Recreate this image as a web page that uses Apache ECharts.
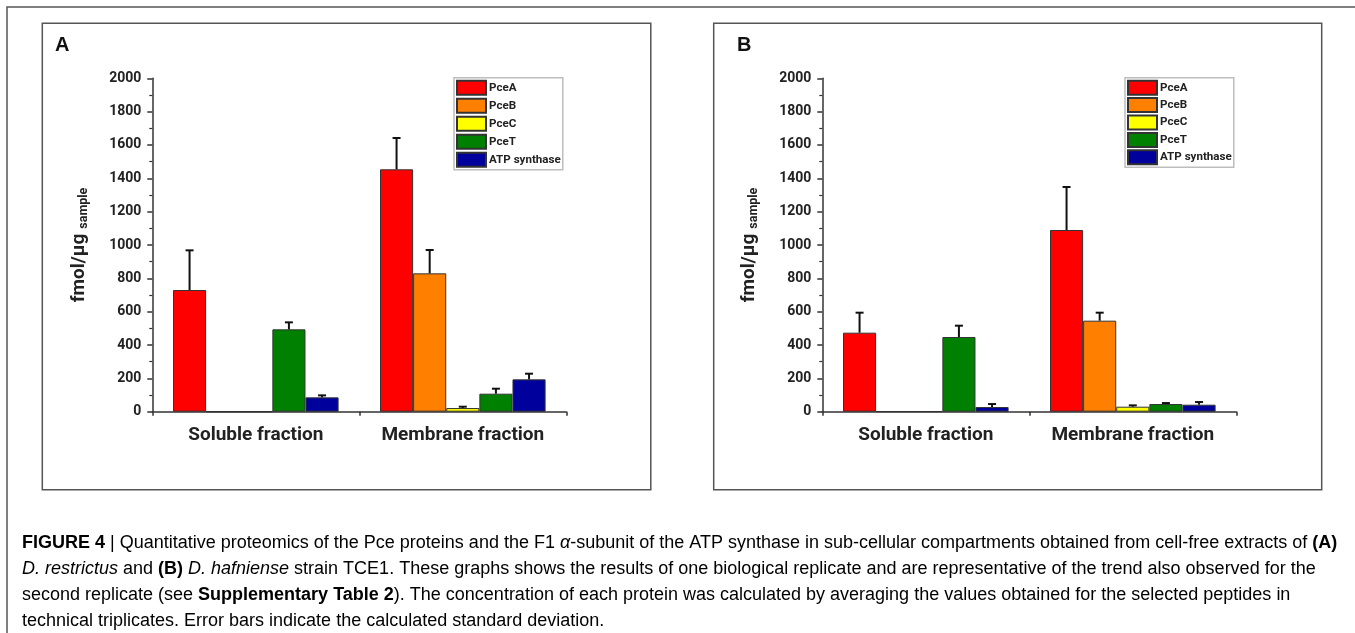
<!DOCTYPE html>
<html>
<head>
<meta charset="utf-8">
<script src="https://cdn.jsdelivr.net/npm/echarts@6/dist/echarts.min.js"></script>
<style>
html,body{margin:0;padding:0;background:#fff;}
#chart{width:1355px;height:633px;}
</style>
</head>
<body>
<div id="chart"></div>
<script>
// ---------- data ----------
const categories = ['Soluble fraction', 'Membrane fraction'];
const seriesNames = ['PceA', 'PceB', 'PceC', 'PceT', 'ATP synthase'];
const yTicks = [0, 200, 400, 600, 800, 1000, 1200, 1400, 1600, 1800, 2000];

// Panel A (D. restrictus)
const A_PceA = [730, 1454];
const A_PceB = [0, 830];
const A_PceC = [0, 22];
const A_PceT = [494, 108];
const A_ATP  = [86, 194];
const A_PceA_sd = [238, 188];
const A_PceB_sd = [0, 140];
const A_PceC_sd = [0, 8];
const A_PceT_sd = [42, 30];
const A_ATP_sd  = [12, 34];

// Panel B (D. hafniense TCE1)
const B_PceA = [474, 1090];
const B_PceB = [2, 546];
const B_PceC = [2, 30];
const B_PceT = [448, 46];
const B_ATP  = [28, 42];
const B_PceA_sd = [120, 258];
const B_PceB_sd = [0, 48];
const B_PceC_sd = [0, 8];
const B_PceT_sd = [68, 6];
const B_ATP_sd  = [18, 16];

// ---------- styling ----------
const colors = ['#ff0000', '#ff8000', '#ffff00', '#008000', '#00009c'];
const labelFont = 'Roboto';
const captionFont = 'Liberation Sans';

const panelA = { vals: [A_PceA, A_PceB, A_PceC, A_PceT, A_ATP], sds: [A_PceA_sd, A_PceB_sd, A_PceC_sd, A_PceT_sd, A_ATP_sd] };
const panelB = { vals: [B_PceA, B_PceB, B_PceC, B_PceT, B_ATP], sds: [B_PceA_sd, B_PceB_sd, B_PceC_sd, B_PceT_sd, B_ATP_sd] };

const nBars = seriesNames.length;
const catGapRatio = 0.2;

function makeGrid(left) {
  return { left: left, top: 78.3, width: 414, height: 333.4, containLabel: false };
}
function makeX(gi) {
  return {
    type: 'category', gridIndex: gi, data: categories,
    axisLine: { lineStyle: { color: '#333', width: 1.5 } },
    axisTick: { show: true, length: 4, lineStyle: { color: '#333', width: 1.5 } },
    axisLabel: { interval: 0, color: '#222', fontFamily: labelFont, fontWeight: 'bold', fontSize: 19, margin: 14 },
    splitLine: { show: false }
  };
}
function makeY(gi) {
  return {
    type: 'value', gridIndex: gi, min: 0, max: 2000, interval: 200,
    name: '{a|fmol/µg}{b|sample}',
    nameLocation: 'middle', nameRotate: 90, nameGap: 62,
    nameTextStyle: {
      rich: {
        a: { fontFamily: labelFont, fontWeight: 'bold', fontSize: 19, color: '#222' },
        b: { fontFamily: labelFont, fontWeight: 'bold', fontSize: 12.5, color: '#222', padding: [9, 0, 0, 5] }
      }
    },
    axisLine: { show: true, lineStyle: { color: '#333', width: 1.5 } },
    axisTick: { show: true, length: 5, lineStyle: { color: '#333', width: 1.5 } },
    minorTick: { show: true, splitNumber: 2, length: 3, lineStyle: { color: '#333', width: 1.2 } },
    axisLabel: { color: '#222', fontFamily: labelFont, fontWeight: 'bold', fontSize: 14, margin: 11,
      formatter: v => (yTicks.indexOf(v) >= 0 ? String(v) : '') },
    splitLine: { show: false }
  };
}

function barSeries(panel, gi) {
  return seriesNames.map((name, j) => ({
    type: 'bar', name: name, xAxisIndex: gi, yAxisIndex: gi,
    data: panel.vals[j],
    barGap: '0%', barCategoryGap: (catGapRatio * 100) + '%',
    itemStyle: { color: colors[j], borderColor: '#333', borderWidth: 1 },
    emphasis: { disabled: true },
    z: 2
  }));
}

function errSeries(panel, gi) {
  const data = [];
  categories.forEach((c, i) => {
    seriesNames.forEach((n, j) => {
      data.push([i, j, panel.vals[j][i], panel.sds[j][i]]);
    });
  });
  return {
    type: 'custom', name: 'err' + gi, xAxisIndex: gi, yAxisIndex: gi,
    data: data, z: 5, silent: true,
    encode: { x: 0, y: 2 },
    renderItem: function (params, api) {
      const cat = api.value(0), j = api.value(1), v = api.value(2), sd = api.value(3);
      if (!sd) return null;
      const base = api.coord([cat, v]);
      const top = api.coord([cat, v + sd]);
      const band = api.size([1, 0])[0];
      const barW = band * (1 - catGapRatio) / nBars;
      const x = base[0] - band * (1 - catGapRatio) / 2 + barW * (j + 0.5);
      const cap = 4;
      const st = { stroke: '#111', lineWidth: 2 };
      return {
        type: 'group',
        children: [
          { type: 'line', shape: { x1: x, y1: base[1], x2: x, y2: top[1] }, style: st },
          { type: 'line', shape: { x1: x - cap, y1: top[1], x2: x + cap, y2: top[1] }, style: st }
        ]
      };
    }
  };
}

function makeLegend(left, gap) {
  return {
    left: left, top: 77.7, orient: 'vertical',
    data: seriesNames, icon: 'rect',
    itemWidth: 29, itemHeight: 14, itemGap: gap,
    padding: [2, 2, 2, 2],
    borderColor: '#bdbdbd', borderWidth: 1.5,
    backgroundColor: '#fff',
    selectedMode: false,
    textStyle: { fontFamily: labelFont, fontWeight: 'bold', fontSize: 11.6, color: '#222', padding: [0, 0, 0, -2] }
  };
}

const capText =
  '{b|FIGURE 4 }{n|| Quantitative proteomics of the Pce proteins and the F1 }{i|α}{n|-subunit of the ATP synthase in sub-cellular compartments obtained from cell-free extracts of }{b|(A)}\n' +
  '{i|D. restrictus}{n| and }{b|(B)}{n| }{i|D. hafniense}{n| strain TCE1. These graphs shows the results of one biological replicate and are representative of the trend also observed for the}\n' +
  '{n|second replicate (see }{b|Supplementary Table 2}{n|). The concentration of each protein was calculated by averaging the values obtained for the selected peptides in}\n' +
  '{n|technical triplicates. Error bars indicate the calculated standard deviation.}';

const capBase = { fontFamily: captionFont, fontSize: 18, color: '#333', lineHeight: 26 };

const option = {
  backgroundColor: '#fff',
  animation: false,
  grid: [makeGrid(152.3), makeGrid(822.3)],
  xAxis: [makeX(0), makeX(1)],
  yAxis: [makeY(0), makeY(1)],
  legend: [makeLegend(454, 2), makeLegend(1125, 1.4)],
  series: [].concat(barSeries(panelA, 0), barSeries(panelB, 1), [errSeries(panelA, 0), errSeries(panelB, 1)]),
  graphic: [
    { type: 'polyline', shape: { points: [[7, 633], [7, 7], [1355, 7]] }, style: { stroke: '#555', lineWidth: 1.5, fill: null }, silent: true },
    { type: 'rect', shape: { x: 42.3, y: 23.3, width: 608.5, height: 466.5 }, style: { stroke: '#555', lineWidth: 1.5, fill: null }, silent: true },
    { type: 'rect', shape: { x: 713.7, y: 23.3, width: 608, height: 466.5 }, style: { stroke: '#555', lineWidth: 1.5, fill: null }, silent: true },
    { type: 'text', left: 55, top: 35, style: { text: 'A', fontFamily: 'Liberation Sans', fontWeight: 'bold', fontSize: 20, fill: '#111' }, silent: true },
    { type: 'text', left: 737, top: 35, style: { text: 'B', fontFamily: 'Liberation Sans', fontWeight: 'bold', fontSize: 20, fill: '#111' }, silent: true },
    { type: 'text', left: 22, top: 534, silent: true,
      style: {
        text: capText,
        rich: {
          n: Object.assign({}, capBase),
          b: Object.assign({}, capBase, { fontWeight: 'bold', color: '#222' }),
          i: Object.assign({}, capBase, { fontStyle: 'italic' })
        }
      }
    }
  ]
};

const chart = echarts.init(document.getElementById('chart'), null, { renderer: 'canvas' });
chart.setOption(option);
</script>
</body>
</html>
